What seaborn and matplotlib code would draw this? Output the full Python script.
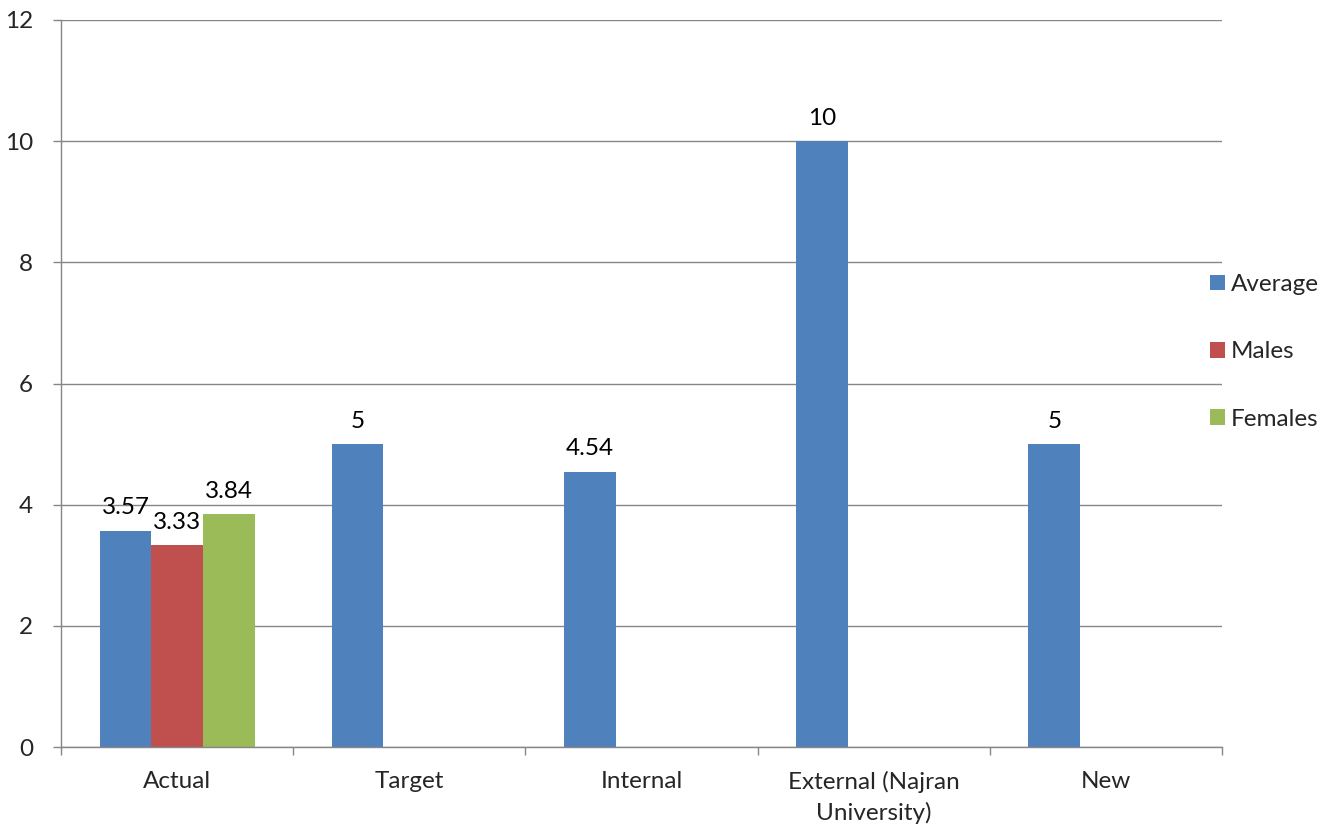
import matplotlib
matplotlib.use("Agg")
import matplotlib.pyplot as plt
import seaborn as sns
import pandas as pd
from matplotlib.patches import Patch

# Chart data
categories = ["Actual", "Target", "Internal", "External (Najran\nUniversity)", "New"]
series = ["Average", "Males", "Females"]
average = [3.57, 5, 4.54, 10, 5]
males = [3.33, None, None, None, None]
females = [3.84, None, None, None, None]
y_ticks = [0, 2, 4, 6, 8, 10, 12]

colors = {"Average": "#4F81BD", "Males": "#C0504D", "Females": "#9BBB59"}
grid_color = "#868686"

rows = []
for name, vals in zip(series, [average, males, females]):
    for cat, v in zip(categories, vals):
        if v is not None:
            rows.append({"category": cat, "series": name, "value": v})
df = pd.DataFrame(rows)

sns.set_theme(style="white")
plt.rcParams["font.family"] = ["Lato", "DejaVu Sans"]
fs = 17.5

fig = plt.figure(figsize=(13.34, 8.27), dpi=100)
ax = fig.add_axes([61 / 1334, 80 / 827, (1222 - 61) / 1334, (747 - 20) / 827])

sns.barplot(data=df, x="category", y="value", hue="series", order=categories,
            hue_order=series, palette=colors, width=0.667, gap=0, dodge=True,
            saturation=1, errorbar=None, ax=ax, legend=False, zorder=3,
            linewidth=0, edgecolor="none")

# Value labels above each bar
for cont in ax.containers:
    ax.bar_label(cont, labels=[f"{b.get_height():g}" for b in cont],
                 padding=9, fontsize=fs, color="black")

ax.set_ylim(0, 12)
ax.set_yticks(y_ticks)
ax.set_xlim(-0.5, len(categories) - 0.5)
ax.set_xlabel("")
ax.set_ylabel("")

# Horizontal gridlines and axis lines
ax.yaxis.grid(True, color=grid_color, linewidth=1.0, zorder=0)
ax.xaxis.grid(False)
for side in ["top", "right"]:
    ax.spines[side].set_visible(False)
for side in ["left", "bottom"]:
    ax.spines[side].set_color(grid_color)
    ax.spines[side].set_linewidth(1.0)
    ax.spines[side].set_zorder(4)

ax.tick_params(axis="y", which="major", length=6, width=1.0, color=grid_color,
               pad=14, labelsize=fs, left=True)
ax.tick_params(axis="x", which="major", length=0, pad=17, labelsize=fs)
ax.set_xticks([i - 0.5 for i in range(len(categories) + 1)], minor=True)
ax.tick_params(axis="x", which="minor", length=6, width=1.0, color=grid_color,
               bottom=True)
for lbl in ax.get_xticklabels():
    lbl.set_linespacing(1.5)

handles = [Patch(facecolor=colors[s], edgecolor="none", label=s) for s in series]
fig.legend(handles=handles, loc="center left",
           bbox_to_anchor=(1198 / 1334, 1 - 352 / 827), frameon=False,
           fontsize=fs, handlelength=0.6, handleheight=0.6, handletextpad=0.25,
           labelspacing=1.9, borderpad=0)

fig.savefig("out.png", dpi=100, facecolor="white")
